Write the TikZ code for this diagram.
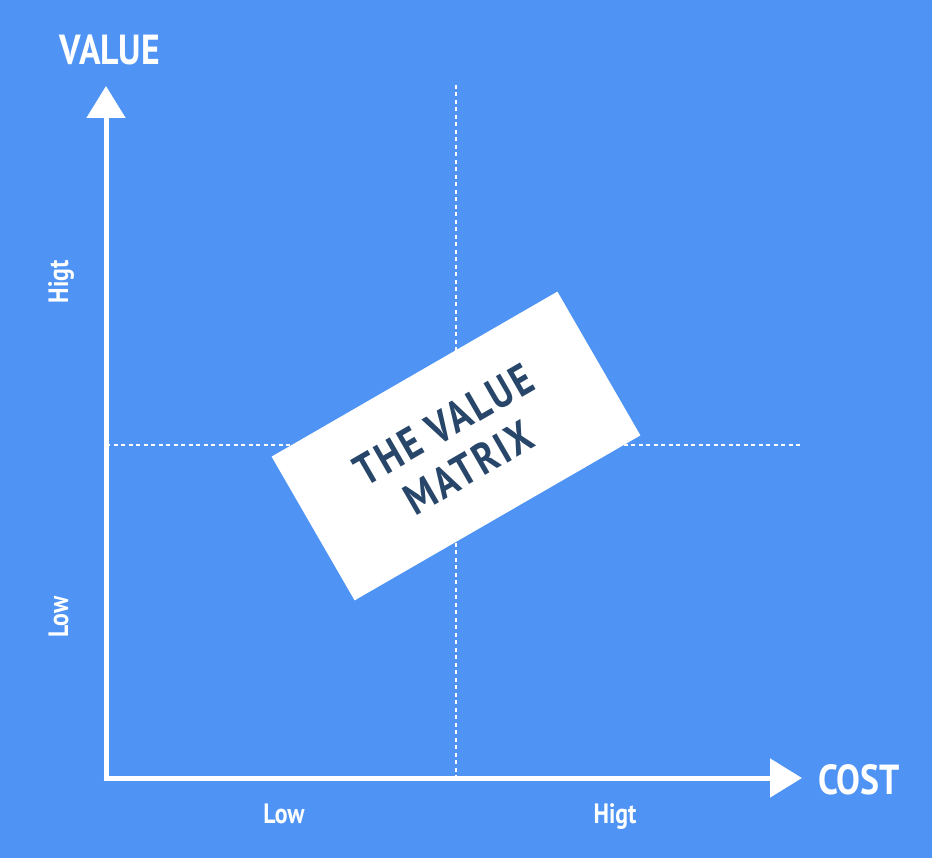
\documentclass[tikz,border=0pt]{standalone}
\usepackage{fontspec}
\setmainfont{PT Sans}[FakeStretch=0.85]
\newfontfamily\cardfont{PT Sans}[FakeStretch=0.85,LetterSpace=6]
\usepackage{tikz}
\usetikzlibrary{arrows.meta,positioning}
\definecolor{skyblue}{RGB}{79,148,245}
\definecolor{navy}{RGB}{40,70,105}

\begin{document}
\begin{tikzpicture}[
  x=1pt,y=-1pt,
  axis/.style={draw=white,line width=5pt,-{Triangle[length=32pt,width=38pt]}},
  guide/.style={draw=white,line width=1.3pt,dash pattern=on 4pt off 3.5pt},
  title/.style={text=white,font=\bfseries\fontsize{42}{42}\selectfont},
  tick/.style={text=white,anchor=base,font=\bfseries\fontsize{28}{28}\selectfont},
  card/.style={fill=white,rotate=30,minimum width=330pt,minimum height=166pt,
               align=center,text=navy,font=\cardfont\bfseries\fontsize{44}{50}\selectfont}
]
\useasboundingbox[fill=skyblue] (0,0) rectangle (932,858);

\coordinate (origin) at (106,778);
\coordinate (ytip) at (106,86);
\coordinate (xtip) at (802,778);
\coordinate (vtop) at (456,85);
\coordinate (vbot) at (456,778);
\coordinate (hleft) at (106,445);
\coordinate (hright) at (803,445);

\draw[guide] (vtop) -- (vbot);
\draw[guide] (hleft) -- (hright);

\draw[axis] ([yshift=2.5pt]origin) -- (ytip);
\draw[axis] ([xshift=-2.5pt]origin) -- (xtip);

\node[card] (matrix) at (456,446) {THE VALUE\\MATRIX};

\node[title] (value) at (110,50) {VALUE};
\node[title] (cost) at (859,780) {COST};
\node[tick] (xlow) at (284,823) {Low};
\node[tick] (xhigh) at (615,823) {Higt};
\node[tick,rotate=90] (ylow) at (68,617) {Low};
\node[tick,rotate=90] (yhigh) at (68,282) {Higt};
\end{tikzpicture}
\end{document}
